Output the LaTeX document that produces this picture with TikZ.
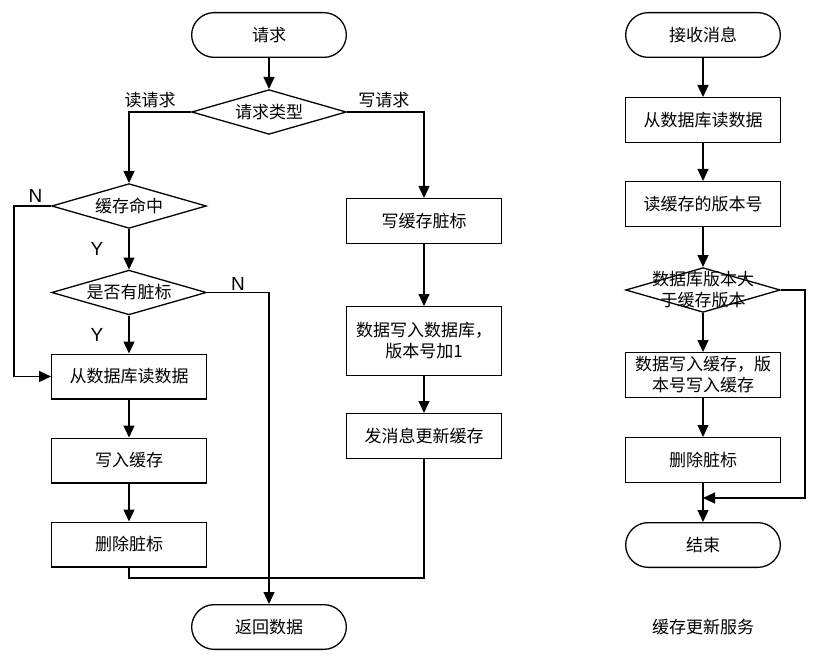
\documentclass[tikz,border=0pt]{standalone}
\usepackage{fontspec}
\setmainfont{Noto Sans CJK SC}
\newfontfamily\ynfont{Liberation Sans}
\usepackage{tikz}
\usetikzlibrary{positioning}
\usetikzlibrary{shapes.geometric}
\usetikzlibrary{arrows.meta}
\tikzset{
    cache flow/.style={
            x=1pt, y=-1pt, node distance=38pt,
            line width=1.3pt,
            font=\fontsize{17}{21}\selectfont,
            box/.style={draw, minimum width=154.7pt, minimum height=44.7pt, inner sep=2pt, align=center},
            terminal/.style={box, rounded corners=22.5pt},
            process/.style={box},
            decision/.style={draw, shape=diamond, minimum width=154.7pt, minimum height=44.7pt, inner sep=0pt},
            arrow/.style={-{Triangle[length=12pt,width=11pt]}},
            yn/.style={font=\ynfont\fontsize{19}{19}\selectfont, inner sep=1pt}
        }
    }
\begin{document}
\begin{tikzpicture}[cache flow]
    \useasboundingbox (0,0) rectangle (821,660);

    \node [terminal] (req) at (269,35) {请求};
    \node [decision, below=31pt of req, label=center:请求类型] (type) {};
    \node [decision, label=center:缓存命中] (hit) at (129,206) {};
    \node [decision, below=40.5pt of hit, label=center:是否有脏标] (dirty) {};
    \node [process, below=of dirty] (readdb) {从数据库读数据};
    \node [process, below=of readdb] (fill) {写入缓存};
    \node [process, below=of fill] (unmark) {删除脏标};
    \node [process] (mark) at (424,221) {写缓存脏标};
    \node [process, below=62pt of mark, minimum height=68.7pt] (writedb) {数据写入数据库，\\版本号加1};
    \node [process, below=37pt of writedb] (notify) {发消息更新缓存};
    \node [terminal] (ret) at (269,627) {返回数据};
    \coordinate (merge) at (ret |- 0,578);
    \coordinate (left) at (14,0);

    \draw [arrow] (req) -- (type);
    \draw [arrow] (type.west) -| (hit.north) node [pos=0.33, above] {读请求};
    \draw [arrow] (type.east) -| (mark.north) node [pos=0.24, above] {写请求};
    \draw [arrow] (hit.west) -- node [pos=0.42, above=2pt, yn] {N} (hit.west -| left) |- (readdb.west);
    \draw [arrow] (hit) -- node [midway, left=24pt, yn] {Y} (dirty);
    \draw [arrow] (dirty) -- node [midway, left=24pt, yn] {Y} (readdb);
    \draw [arrow] (dirty.east) -| node [pos=0.25, above, yn] {N} (ret.north);
    \draw [arrow] (readdb) -- (fill);
    \draw [arrow] (fill) -- (unmark);
    \draw (unmark.south) |- (merge) -| (notify.south);
    \draw [arrow] (mark) -- (writedb);
    \draw [arrow] (writedb) -- (notify);

    % cache update service
    \node [terminal] (recv) at (703,35) {接收消息};
    \node [process, below=39pt of recv] (rdb) {从数据库读数据};
    \node [process, below=of rdb] (rver) {读缓存的版本号};
    \node [decision, below=40pt of rver, label={[align=center]center:数据库版本大\\于缓存版本}] (cmp) {};
    \node [process, below=39pt of cmp] (wcache) {数据写入缓存，版\\本号写入缓存};
    \node [process, below=39pt of wcache] (del) {删除脏标};
    \node [terminal, below=39pt of del] (end) {结束};
    \node (caption) at (end |- ret) {缓存更新服务};
    \coordinate [below=15pt of del] (rjoin);

    \draw [arrow] (recv) -- (rdb);
    \draw [arrow] (rdb) -- (rver);
    \draw [arrow] (rver) -- (cmp);
    \draw [arrow] (cmp) -- (wcache);
    \draw [arrow] (wcache) -- (del);
    \draw [arrow] (del) -- (end);
    \draw [arrow] (cmp.east) -- ++(24,0) |- (rjoin);
\end{tikzpicture}
\end{document}
